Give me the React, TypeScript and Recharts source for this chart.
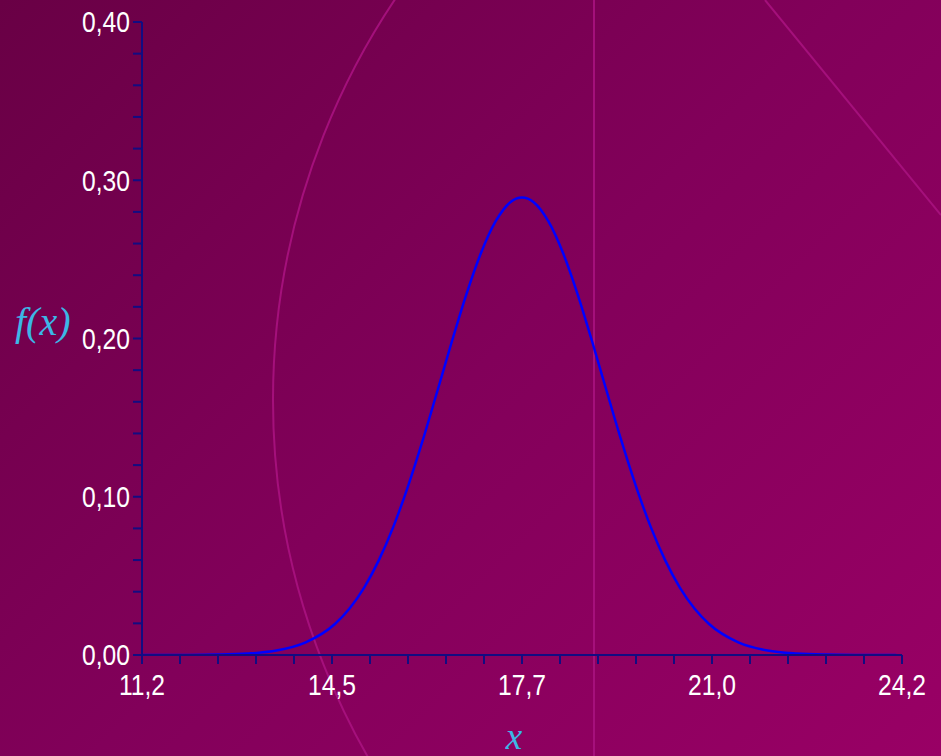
import React from 'react';
import { LineChart, Line, XAxis, YAxis } from 'recharts';

const xValues = [11.2, 12.0, 12.5, 13.0, 13.5, 14.0, 14.5, 14.75, 15.0, 15.25, 15.5, 15.75, 16.0, 16.25, 16.5, 16.75, 17.0, 17.25, 17.5, 17.7, 17.9, 18.15, 18.4, 18.65, 18.9, 19.15, 19.4, 19.65, 19.9, 20.15, 20.4, 20.65, 20.9, 21.4, 21.9, 22.4, 22.9, 23.4, 24.1];
const fValues = [0.0, 0.00006, 0.00024, 0.00088, 0.0028, 0.008, 0.0196, 0.0294, 0.0426, 0.0598, 0.0811, 0.1066, 0.1354, 0.1665, 0.1981, 0.2281, 0.2542, 0.2741, 0.2861, 0.2891, 0.2861, 0.2741, 0.2542, 0.2281, 0.1981, 0.1665, 0.1354, 0.1066, 0.0811, 0.0598, 0.0426, 0.0294, 0.0196, 0.008, 0.0028, 0.00088, 0.00024, 0.00006, 0.0];

const xTicks = [11.2, 11.85, 12.5, 13.15, 13.8, 14.45, 15.1, 15.75, 16.4, 17.05, 17.7, 18.35, 19.0, 19.65, 20.3, 20.95, 21.6, 22.25, 22.9, 23.55, 24.2];
const xMajorIdx = [0, 5, 10, 15, 20];
const xMajorLabels = ['11,2', '14,5', '17,7', '21,0', '24,2'];

const yTicks = [0, 0.02, 0.04, 0.06, 0.08, 0.1, 0.12, 0.14, 0.16, 0.18, 0.2, 0.22, 0.24, 0.26, 0.28, 0.3, 0.32, 0.34, 0.36, 0.38, 0.4];
const yMajorIdx = [0, 5, 10, 15, 20];
const yMajorLabels = ['0,00', '0,10', '0,20', '0,30', '0,40'];

const data = xValues.map((x, i) => ({ x, f: fValues[i] }));

const AXIS = '#120c82';
const FONT = "'Liberation Sans', Arial, sans-serif";
const SX = 0.85;

const XTick = (props: any) => {
  const { x, y, index } = props;
  const k = xMajorIdx.indexOf(index);
  if (k < 0) return <g />;
  return (
    <g transform={`translate(${x},${y}) scale(${SX},1)`}>
      <text x={0} y={0} dy="0.71em" textAnchor="middle" fill="#ffffff" fontSize={29} fontFamily={FONT}>
        {xMajorLabels[k]}
      </text>
    </g>
  );
};

const YTick = (props: any) => {
  const { x, y, index } = props;
  const k = yMajorIdx.indexOf(index);
  if (k < 0) return <g />;
  return (
    <g transform={`translate(${x},${y}) scale(${SX},1)`}>
      <text x={0} y={0} dy="0.355em" textAnchor="end" fill="#ffffff" fontSize={29} fontFamily={FONT}>
        {yMajorLabels[k]}
      </text>
    </g>
  );
};

export default function App() {
  return (
    <div
      style={{
        position: 'absolute',
        left: 0,
        top: 0,
        width: 941,
        height: 756,
        overflow: 'hidden',
        background: 'linear-gradient(135deg, #690045 0%, #82005a 50%, #990065 100%)',
      }}
    >
      <svg width={941} height={756} style={{ position: 'absolute', left: 0, top: 0 }}>
        <circle cx={991} cy={400} r={718} fill="none" stroke="#a8127f" strokeWidth={2} opacity={0.9} />
        <line x1={594} y1={0} x2={594} y2={756} stroke="#a8127f" strokeWidth={2} opacity={0.9} />
        <line x1={765} y1={0} x2={941} y2={215} stroke="#a8127f" strokeWidth={2} opacity={0.9} />
      </svg>
      <div style={{ position: 'absolute', left: 0, top: 0 }}>
        <LineChart width={941} height={756} data={data} margin={{ top: 22, right: 39, bottom: 41, left: 0 }}>
          <XAxis
            dataKey="x"
            type="number"
            domain={[11.2, 24.2]}
            ticks={xTicks}
            interval={0}
            height={60}
            stroke={AXIS}
            strokeWidth={2}
            tickSize={9}
            tickMargin={10}
            tickLine={{ stroke: AXIS, strokeWidth: 2 }}
            tick={XTick}
            allowDataOverflow
          />
          <YAxis
            type="number"
            domain={[0, 0.4]}
            ticks={yTicks}
            interval={0}
            width={142}
            stroke={AXIS}
            strokeWidth={2}
            tickSize={9}
            tickMargin={3}
            tickLine={{ stroke: AXIS, strokeWidth: 2 }}
            tick={YTick}
            allowDataOverflow
          />
          <Line
            dataKey="f"
            type="monotone"
            stroke="#0000ff"
            strokeWidth={2.5}
            dot={false}
            activeDot={false}
            isAnimationActive={false}
          />
        </LineChart>
      </div>
      <svg width={941} height={756} style={{ position: 'absolute', left: 0, top: 0, pointerEvents: 'none' }}>
        <text x={15} y={335} fill="#3cb6e6" fontSize={40} fontStyle="italic" fontFamily="'Liberation Serif', 'Times New Roman', serif">
          f(x)
        </text>
        <text x={514} y={749} textAnchor="middle" fill="#3cb6e6" fontSize={37} fontStyle="italic" fontFamily="'Liberation Serif', 'Times New Roman', serif">
          x
        </text>
      </svg>
    </div>
  );
}
